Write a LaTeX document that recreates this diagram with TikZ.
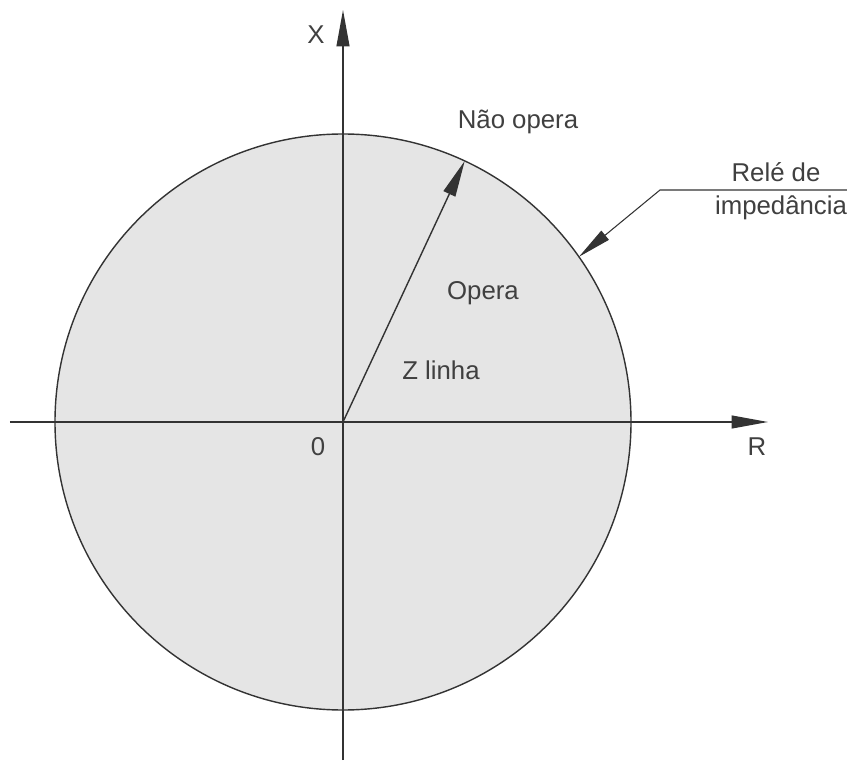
\documentclass[tikz,border=0pt]{standalone}
\usepackage{fontspec}
\setmainfont{Liberation Sans}
\usetikzlibrary{arrows.meta}

\begin{document}
\begin{tikzpicture}[
    x=0.03cm, y=0.03cm,
    zone/.style={draw=black!80, fill=black!10, line width=1.2pt},
    axarr/.style={-{Triangle[length=31pt, width=11pt]}, draw=black!80, line width=1.2pt},
    leadarr/.style={-{Triangle[length=29pt, width=10pt]}, draw=black!80, line width=0.9pt},
    lbl/.style={text=black!75, font=\fontsize{22}{26}\selectfont, inner sep=0pt}
]
\useasboundingbox (-343,-338) rectangle (504,422);

% Origin and circle of the relay
\coordinate (O) at (0,0);
\draw[zone] (O) circle (288);

% Axes
\coordinate (west)  at (-333,0);
\coordinate (east)  at (425,0);
\coordinate (south) at (0,-338);
\coordinate (north) at (0,412);
\draw[axarr] (west)  -- (east);
\draw[axarr] (south) -- (north);

\node[lbl] (xlab) at (-27,387) {X};
\node[lbl] (rlab) at (414,-25) {R};
\node[lbl] (olab) at (-25,-25) {0};

% Line impedance
\coordinate (zl) at (65:288);
\draw[axarr] (O) -- (zl);

% Leader to the circle
\coordinate (rl)   at (35:288);
\coordinate (knee) at (317,232);
\coordinate (lend) at (504,232);
\draw[leadarr] (lend) -- (knee) -- (rl);

% Labels
\node[lbl] (naoop) at (175,300) {Não opera};
\node[lbl] (opera) at (140,129) {Opera};
\node[lbl] (zlin)  at (98,52)   {Z linha};
\node[lbl] (rele)  at (433,250) {Relé de};
\node[lbl] (imped) at (438,214) {impedância};

\end{tikzpicture}
\end{document}
